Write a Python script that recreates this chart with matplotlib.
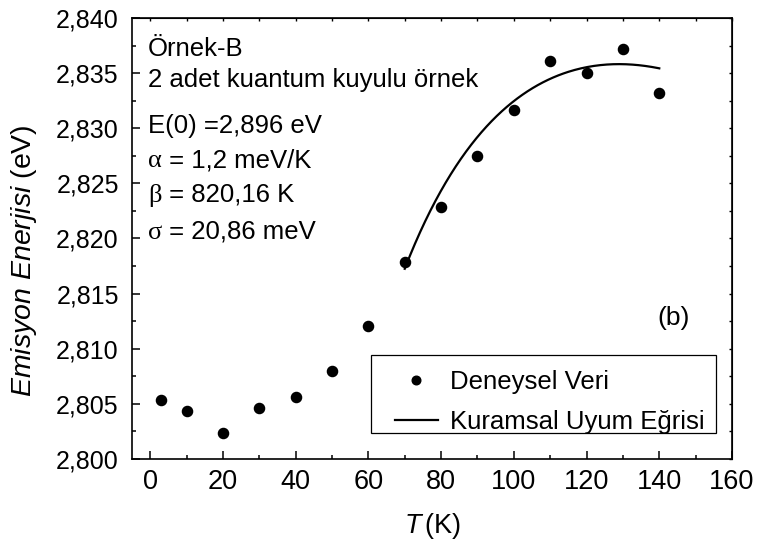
import numpy as np
import matplotlib
matplotlib.use("Agg")
import matplotlib.pyplot as plt
from matplotlib.patches import Rectangle
from matplotlib.ticker import MultipleLocator, FuncFormatter

plt.rcParams['font.family'] = ['Liberation Sans', 'DejaVu Sans']
plt.rcParams['mathtext.fontset'] = 'custom'
plt.rcParams['mathtext.rm'] = 'Liberation Sans'
plt.rcParams['mathtext.it'] = 'Liberation Sans:italic'

# Measured emission energies
temperature = [3, 10, 20, 30, 40, 50, 60, 70, 80, 90, 100, 110, 120, 130, 140]
energy = [2.80535, 2.80438, 2.80239, 2.80466, 2.80565, 2.80801, 2.8121, 2.81785,
          2.82289, 2.82752, 2.83167, 2.83614, 2.83500, 2.83718, 2.83321]

# Fit parameters (Varshni + localisation term)
E0 = 2.896          # eV
alpha = 1.2e-3      # eV/K
beta = 820.16       # K
sigma = 20.86e-3    # eV
k_B = 8.617e-5      # eV/K
fit_range = (70, 140)

T_fit = np.linspace(fit_range[0], fit_range[1], 200)
E_fit = E0 - alpha * T_fit**2 / (T_fit + beta) - sigma**2 / (k_B * T_fit)

fig = plt.figure(figsize=(7.58, 5.46), dpi=100)
ax = fig.add_axes([132/758, (546-459)/546, 600/758, 441/546])

ax.plot(temperature, energy, 'o', color='black', markersize=7.3, label='Deneysel Veri')
ax.plot(T_fit, E_fit, '-', color='black', linewidth=1.6, label='Kuramsal Uyum Eğrisi')

ax.set_xlim(-5, 160)
ax.set_ylim(2.800, 2.840)
ax.xaxis.set_major_locator(MultipleLocator(20))
ax.xaxis.set_minor_locator(MultipleLocator(10))
ax.yaxis.set_major_locator(MultipleLocator(0.005))
ax.yaxis.set_minor_locator(MultipleLocator(0.0025))
ax.yaxis.set_major_formatter(FuncFormatter(lambda v, p: f"{v:.3f}".replace('.', ',')))
ax.tick_params(which='major', direction='in', length=6, width=1.1)
ax.tick_params(which='minor', direction='in', length=3, width=1.1)
ax.tick_params(axis='x', which='major', labelsize=19.5, pad=7)
ax.tick_params(axis='y', which='major', labelsize=18, pad=9.5)
for s in ax.spines.values():
    s.set_linewidth(1.2)

top = ax.secondary_xaxis('top')
top.xaxis.set_major_locator(MultipleLocator(10))
top.tick_params(direction='in', length=2.5, width=1.0, labeltop=False)
right = ax.secondary_yaxis('right')
right.yaxis.set_major_locator(MultipleLocator(0.0025))
right.tick_params(direction='in', length=2.5, width=1.0, labelright=False)

ax.set_xlabel(r'$T\,$(K)', fontsize=19.5, labelpad=12)
ax.set_ylabel(r'$Emisyon\ Enerjisi$ (eV)', fontsize=20.5, labelpad=12, y=0.449)

tx = 0.027
fs = 18.5
ax.text(tx, 0.914, 'Örnek-B', transform=ax.transAxes, fontsize=fs, va='baseline')
ax.text(tx, 0.8435, '2 adet kuantum kuyulu örnek', transform=ax.transAxes, fontsize=fs, va='baseline')
ax.text(tx, 0.739, 'E(0) =2,896 eV', transform=ax.transAxes, fontsize=fs, va='baseline')
greek = [('α', ' = 1,2 meV/K', 0.662), ('β', ' = 820,16 K', 0.583), ('σ', ' = 20,86 meV', 0.499)]
for sym, rest, y in greek:
    ax.text(tx, y, sym, transform=ax.transAxes, fontsize=19, va='baseline',
            family=['Liberation Serif', 'DejaVu Serif'])
    ax.text(0.05, y, rest, transform=ax.transAxes, fontsize=fs, va='baseline')

ax.text(0.93, 0.32, '(b)', transform=ax.transAxes, fontsize=19, ha='right', va='center')

# Legend entries without frame; the box is drawn separately
leg = ax.legend(loc='upper left', bbox_to_anchor=(0.438, 0.202), fontsize=fs,
                frameon=False, handlelength=1.67, handletextpad=0.47, borderpad=0,
                labelspacing=0.62, markerscale=0.85, borderaxespad=0)
ax.add_patch(Rectangle((0.398, 0.058), 0.575, 0.178, transform=ax.transAxes,
                       facecolor='white', edgecolor='black', linewidth=0.9, zorder=4))
leg.set_zorder(5)

fig.savefig('out.png', dpi=100)
